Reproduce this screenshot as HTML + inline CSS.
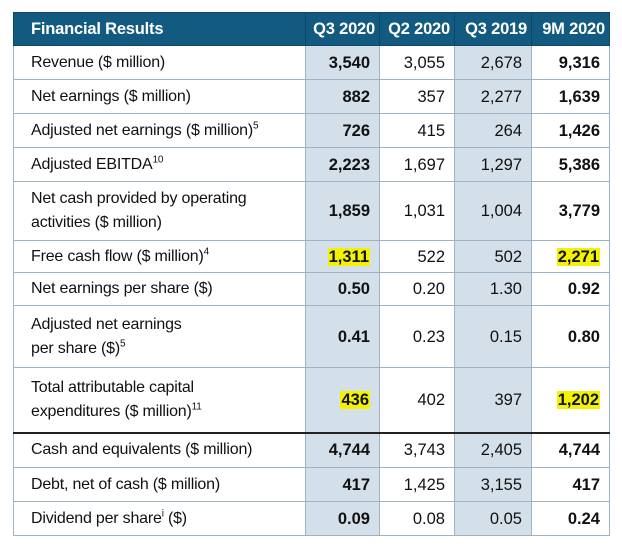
<!DOCTYPE html>
<html><head><meta charset="utf-8"><style>
body{margin:0;width:622px;height:555px;background:#fff;font-family:"Liberation Sans",Arial,sans-serif;overflow:hidden}
table{position:absolute;left:13px;top:12px;width:596px;border-collapse:collapse;table-layout:fixed;font-size:16px;color:#111;letter-spacing:-0.2px}
td,th{border:1.5px solid #9fb2c4;padding:0 30px 0 17px;line-height:24px}
th{background:#135a80;color:#fff;font-weight:bold;height:32px;border-color:#0f4766;padding:0 4px 0 0;text-align:right;white-space:nowrap;font-size:16.5px}
th:first-child{text-align:left;padding-left:17px}
td.n{text-align:right;padding:0 9px 0 0;font-size:16.5px;letter-spacing:0}
td.s{background:#d3dfe9}
td.b{font-weight:bold}
.hl{background:#f3f200;padding:0 1px}
tr.top td{border-top:2px solid #222}
sup{font-size:10px;line-height:0}
</style></head><body>
<table>
<colgroup><col style="width:292px"><col style="width:74px"><col style="width:75px"><col style="width:77px"><col style="width:78px"></colgroup>
<tr><th>Financial Results</th><th>Q3 2020</th><th>Q2 2020</th><th>Q3 2019</th><th>9M 2020</th></tr>
<tr style="height:34px"><td>Revenue ($ million)</td><td class="n s b">3,540</td><td class="n">3,055</td><td class="n s">2,678</td><td class="n b">9,316</td></tr>
<tr style="height:34px"><td>Net earnings ($ million)</td><td class="n s b">882</td><td class="n">357</td><td class="n s">2,277</td><td class="n b">1,639</td></tr>
<tr style="height:34px"><td style="padding-right:4px">Adjusted net earnings ($ million)<sup>5</sup></td><td class="n s b">726</td><td class="n">415</td><td class="n s">264</td><td class="n b">1,426</td></tr>
<tr style="height:34px"><td>Adjusted EBITDA<sup>10</sup></td><td class="n s b">2,223</td><td class="n">1,697</td><td class="n s">1,297</td><td class="n b">5,386</td></tr>
<tr style="height:59px"><td>Net cash provided by operating activities ($ million)</td><td class="n s b">1,859</td><td class="n">1,031</td><td class="n s">1,004</td><td class="n b">3,779</td></tr>
<tr style="height:32px"><td>Free cash flow ($ million)<sup>4</sup></td><td class="n s b"><span class="hl">1,311</span></td><td class="n">522</td><td class="n s">502</td><td class="n b"><span class="hl">2,271</span></td></tr>
<tr style="height:33px"><td>Net earnings per share ($)</td><td class="n s b">0.50</td><td class="n">0.20</td><td class="n s">1.30</td><td class="n b">0.92</td></tr>
<tr style="height:62px"><td>Adjusted net earnings<br>per share ($)<sup>5</sup></td><td class="n s b">0.41</td><td class="n">0.23</td><td class="n s">0.15</td><td class="n b">0.80</td></tr>
<tr style="height:65px"><td>Total attributable capital<br>expenditures ($ million)<sup>11</sup></td><td class="n s b"><span class="hl">436</span></td><td class="n">402</td><td class="n s">397</td><td class="n b"><span class="hl">1,202</span></td></tr>
<tr class="top" style="height:35px"><td>Cash and equivalents ($ million)</td><td class="n s b">4,744</td><td class="n">3,743</td><td class="n s">2,405</td><td class="n b">4,744</td></tr>
<tr style="height:34px"><td>Debt, net of cash ($ million)</td><td class="n s b">417</td><td class="n">1,425</td><td class="n s">3,155</td><td class="n b">417</td></tr>
<tr style="height:34px"><td>Dividend per share<sup>i</sup> ($)</td><td class="n s b">0.09</td><td class="n">0.08</td><td class="n s">0.05</td><td class="n b">0.24</td></tr>
</table>
</body></html>
